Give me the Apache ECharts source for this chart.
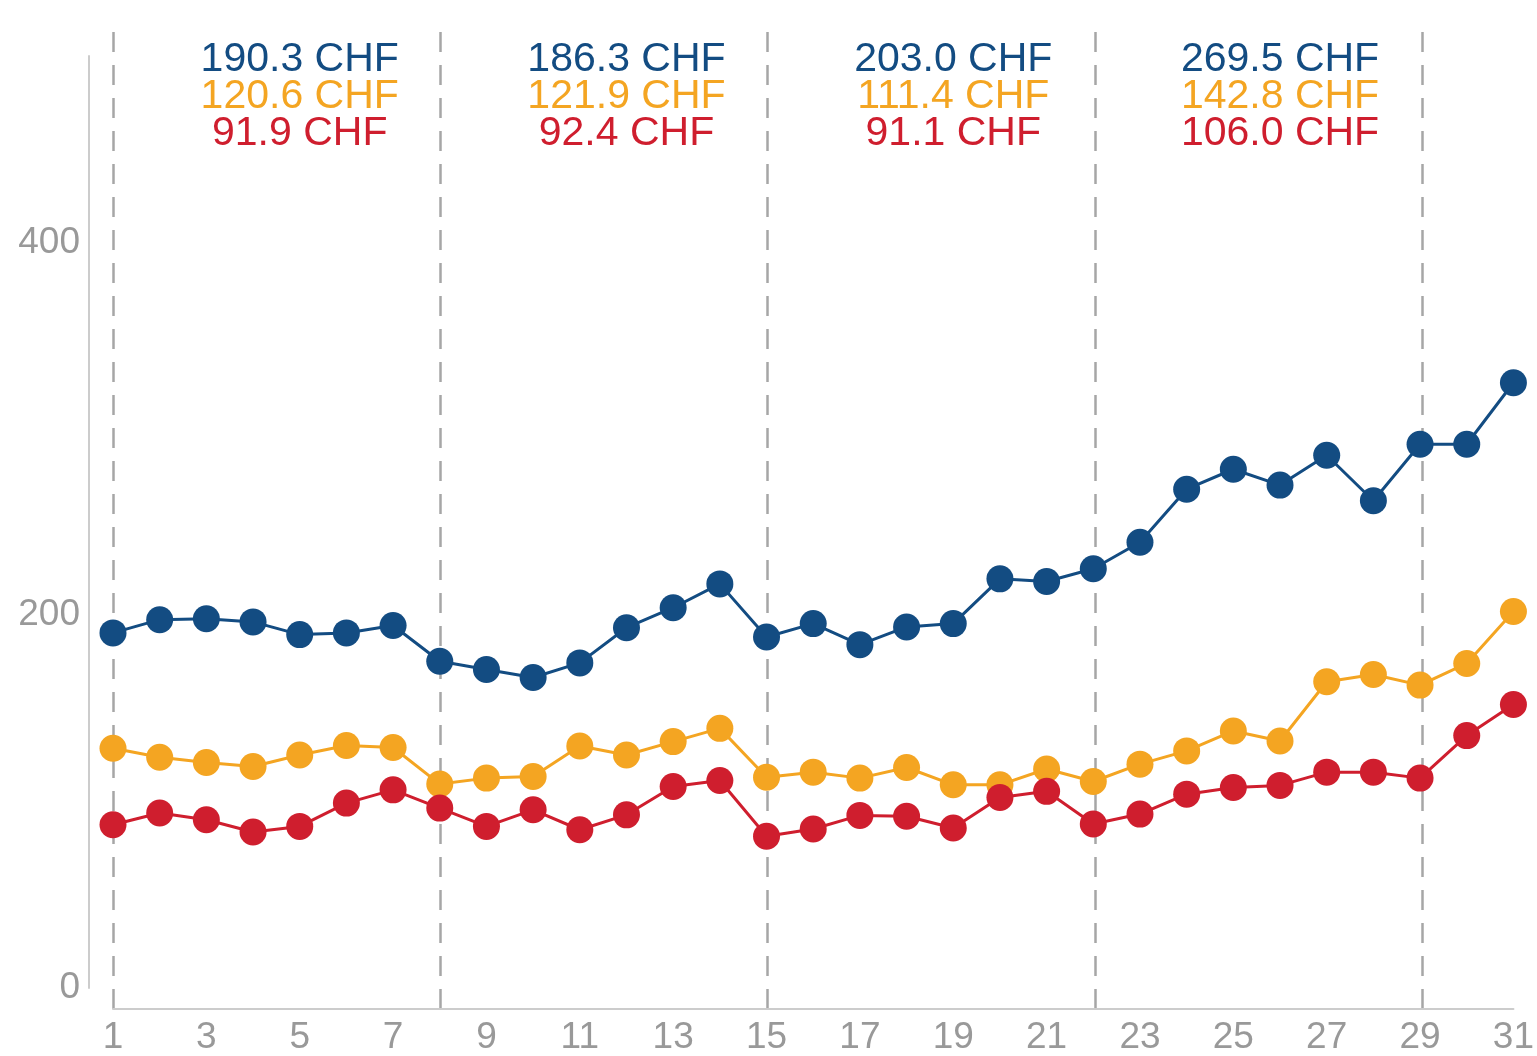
<!DOCTYPE html>
<html>
<head>
<meta charset="utf-8">
<script src="https://cdn.jsdelivr.net/npm/echarts@6/dist/echarts.min.js"></script>
<style>
  html, body { margin: 0; padding: 0; background: #fff; }
  #chart { width: 1537px; height: 1056px; }
</style>
</head>
<body>
<div id="chart"></div>
<script>
// days of the month
const days = Array.from({ length: 31 }, (_, i) => String(i + 1));

// daily values (CHF)
const blueValues = [190.5, 197.6, 198.1, 196.4, 189.6, 190.5, 194.5, 175.3, 170.9, 166.6,
  174.4, 193.3, 204.0, 216.8, 188.3, 195.5, 184.2, 193.7, 195.5, 219.5,
  218.1, 224.9, 239.1, 267.6, 278.3, 269.8, 285.8, 261.4, 291.7, 291.7, 324.7];
const orangeValues = [128.6, 123.8, 121.0, 118.8, 125.0, 130.1, 129.0, 109.4, 112.6, 113.5,
  129.8, 125.0, 132.2, 139.3, 113.1, 115.8, 112.6, 118.3, 109.0, 109.0,
  117.5, 110.8, 120.1, 127.2, 137.9, 132.5, 164.3, 168.2, 162.5, 174.1, 202.0];
const redValues = [87.6, 93.9, 90.3, 83.7, 86.7, 99.2, 106.3, 96.5, 86.7, 95.6,
  84.9, 92.9, 108.1, 111.3, 81.4, 85.3, 92.6, 92.1, 85.8, 102.2,
  105.5, 88.0, 93.3, 104.0, 107.6, 108.7, 115.8, 115.8, 112.6, 135.4, 152.1];

// weekly summary labels, placed in the middle of each week
const weekCenters = ['5', '12', '19', '26'];
const weekBlue = ['190.3', '186.3', '203.0', '269.5'];
const weekOrange = ['120.6', '121.9', '111.4', '142.8'];
const weekRed = ['91.9', '92.4', '91.1', '106.0'];
const weekStarts = ['1', '8', '15', '22', '29'];

const BLUE = '#134c82';
const ORANGE = '#f4a522';
const RED = '#cf1e2e';
const GREY = '#999999';
const FONT = 'Liberation Sans, Arial, sans-serif';

const chart = echarts.init(document.getElementById('chart'), null, { renderer: 'canvas' });

function lineSeries(name, values, color) {
  return {
    name: name,
    type: 'line',
    xAxisIndex: 0,
    yAxisIndex: 0,
    data: values,
    symbol: 'circle',
    symbolSize: 27,
    showAllSymbol: true,
    lineStyle: { color: color, width: 3 },
    itemStyle: { color: color },
    z: 3
  };
}

chart.setOption({
  animation: false,
  backgroundColor: '#fff',
  grid: [
    // data grid
    { left: 113, right: 21, top: 56, bottom: 66 },
    // grid for the weekly dashed separators
    { left: 113, right: 21, top: 32, bottom: 45 }
  ],
  xAxis: [
    {
      gridIndex: 0,
      type: 'category',
      data: days,
      boundaryGap: false,
      offset: 21,
      axisLine: { show: true, onZero: false, lineStyle: { color: '#cccccc', width: 2 } },
      axisTick: { show: false },
      axisLabel: {
        interval: 1,
        color: GREY,
        fontSize: 37,
        fontFamily: FONT,
        margin: 10
      },
      splitLine: { show: false }
    },
    {
      gridIndex: 1,
      type: 'category',
      data: days,
      boundaryGap: false,
      axisLine: { show: false },
      axisTick: { show: false },
      axisLabel: { show: false },
      splitLine: {
        show: true,
        interval: (i, v) => weekStarts.indexOf(v) !== -1,
        lineStyle: { color: '#a6a6a6', width: 2.5, type: [20, 13] }
      }
    }
  ],
  yAxis: [
    {
      gridIndex: 0,
      type: 'value',
      min: 0,
      max: 500,
      interval: 200,
      offset: 24,
      axisLine: { show: true, lineStyle: { color: '#cccccc', width: 2 } },
      axisTick: { show: false },
      axisLabel: {
        color: GREY,
        fontSize: 37,
        fontFamily: FONT,
        margin: 9,
        showMaxLabel: false
      },
      splitLine: { show: false }
    },
    {
      gridIndex: 1,
      type: 'value',
      show: false,
      min: 0,
      max: 1
    }
  ],
  series: [
    lineSeries('blue', blueValues, BLUE),
    lineSeries('orange', orangeValues, ORANGE),
    lineSeries('red', redValues, RED),
    {
      // weekly summary text
      type: 'scatter',
      xAxisIndex: 0,
      yAxisIndex: 0,
      symbolSize: 0,
      silent: true,
      itemStyle: { opacity: 1 },
      data: weekCenters.map((d, i) => ({
        value: [d, 478],
        b: weekBlue[i], o: weekOrange[i], r: weekRed[i]
      })),
      label: {
        show: true,
        position: 'inside',
        opacity: 1,
        textBorderWidth: 0,
        fontFamily: FONT,
        formatter: p => '{b|' + p.data.b + ' CHF}\n{o|' + p.data.o + ' CHF}\n{r|' + p.data.r + ' CHF}',
        rich: {
          b: { color: BLUE, fontSize: 41, lineHeight: 37, fontFamily: FONT, align: 'center', textBorderWidth: 0 },
          o: { color: ORANGE, fontSize: 41, lineHeight: 37, fontFamily: FONT, align: 'center', textBorderWidth: 0 },
          r: { color: RED, fontSize: 41, lineHeight: 37, fontFamily: FONT, align: 'center', textBorderWidth: 0 }
        }
      },
      z: 4
    }
  ]
});
</script>
</body>
</html>
